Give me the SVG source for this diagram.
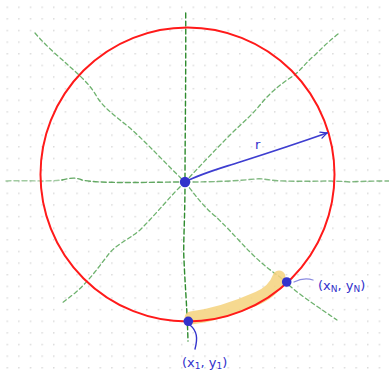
<svg xmlns="http://www.w3.org/2000/svg" width="389" height="374" viewBox="0 0 389 374">
<style>
.axis{fill:none;stroke:#2e8b2e;stroke-width:1.4;stroke-dasharray:5 3;stroke-linecap:round}
.diag{fill:none;stroke:#55a555;stroke-width:1.3;stroke-dasharray:4 3;stroke-linecap:round;opacity:.85}
.pt{fill:#3232cc}
.lbl{font-family:"DejaVu Sans","Liberation Sans",sans-serif;font-size:13px;fill:#3232cc}
.sub{font-size:9px}
</style>
<defs>
<pattern id="grid" x="6.5" y="6.5" width="11.63" height="11.63" patternUnits="userSpaceOnUse">
<circle cx="0.8" cy="0.8" r="0.8" fill="#d2d2d2"/>
</pattern>
<marker id="ah" viewBox="0 0 10 10" refX="9" refY="5" markerWidth="8" markerHeight="8" markerUnits="userSpaceOnUse" orient="auto">
<path d="M1,1 L9,5 L1,9" fill="none" stroke="#3434cc" stroke-width="1.6" stroke-linecap="round"/>
</marker>
</defs>
<rect width="389" height="374" fill="#ffffff"/>
<rect width="389" height="374" fill="url(#grid)"/>
<g id="connectors">
<path class="axis" d="M185.7,13 C186,80 185,140 185,182 C185,220 183,245 184,260 C185,285 187,305 188,341"/>
<path class="axis" style="opacity:.45" d="M6,181 C25,180 45,182 62,180"/>
<path class="axis" style="opacity:.75" d="M62,180 C70,178 75,177 82,180 C100,184 150,182 185,182"/>
<path class="axis" style="opacity:.6" d="M185,182 C215,182 235,181 255,179 C265,178 270,181 285,181 C310,182 330,180 350,182 C365,181 380,181 389,181"/>
<path class="diag" d="M35,33 C45,45 58,56 68,65 C78,74 90,84 97,97 C104,108 115,116 130,128 C150,146 168,166 185,182"/>
<path class="diag" d="M185,182 C195,195 203,206 215,216 C230,230 240,242 250,252 C262,264 270,270 280,277 C295,292 315,305 337,320"/>
<path class="diag" d="M338,34 C328,42 322,48 315,55 C305,63 300,72 290,78 C278,86 268,95 260,105 C250,117 240,125 230,135 C215,150 200,166 185,182"/>
<path class="diag" d="M185,182 C172,194 158,212 140,230 C128,240 115,245 108,255 C98,268 88,282 75,293 C70,297 66,300 62,303"/>
</g>
<path id="highlight" d="M191,318 C215,315 240,306 258,298 C269,293 276,286 279,277" fill="none" stroke="#f5d27c" stroke-width="13" stroke-linecap="round" opacity=".85"/>
<circle id="circle" cx="187.5" cy="174.5" r="147" fill="none" stroke="#ff1a1a" stroke-width="2"/>
<g id="radius">
<path d="M185,182 C200,174 215,170 240,162 S290,146 327,133" fill="none" stroke="#3e3ed0" stroke-width="1.8" stroke-linecap="round" marker-end="url(#ah)"/>
<text class="lbl" x="255" y="149" font-size="12">r</text>
</g>
<g id="center"><circle class="pt" cx="185" cy="182" r="5.2"/></g>
<g id="p1">
<circle class="pt" cx="188.3" cy="321.3" r="4.8"/>
<path d="M190,325 C197,331 198,338 195,349" fill="none" stroke="#3434cc" stroke-width="1.4" stroke-linecap="round"/>
<text class="lbl" x="182" y="367">(x<tspan class="sub" dy="2">1</tspan><tspan dy="-2">, y</tspan><tspan class="sub" dy="2">1</tspan><tspan dy="-2">)</tspan></text>
</g>
<g id="pN">
<circle class="pt" cx="286.7" cy="282" r="4.8"/>
<path d="M294,282 C300,279 307,278 313,280" fill="none" stroke="#8a8ae0" stroke-width="1.3" stroke-linecap="round"/>
<text class="lbl" x="318" y="290">(x<tspan class="sub" dy="2">N</tspan><tspan dy="-2">, y</tspan><tspan class="sub" dy="2">N</tspan><tspan dy="-2">)</tspan></text>
</g>
</svg>
